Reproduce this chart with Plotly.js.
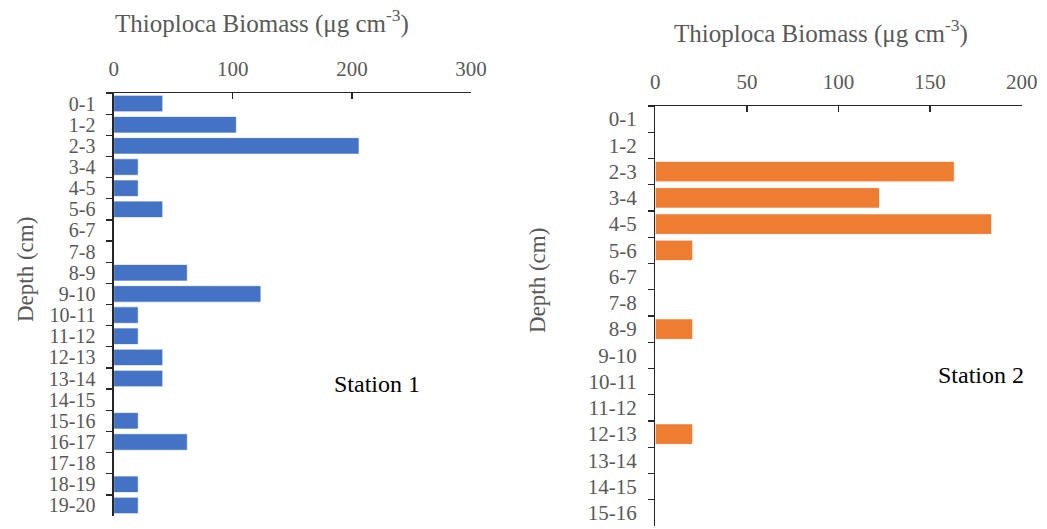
<!DOCTYPE html>
<html>
<head>
<meta charset="utf-8">
<script src="https://cdn.plot.ly/plotly-3.0.1.min.js"></script>
<style>
  html, body { margin: 0; padding: 0; background: #fff; }
  #chart { width: 1047px; height: 529px; }
</style>
</head>
<body>
<div id="chart"></div>
<script>
// Depth intervals (cm) for each core
const depthStation1 = ['0-1','1-2','2-3','3-4','4-5','5-6','6-7','7-8','8-9','9-10',
  '10-11','11-12','12-13','13-14','14-15','15-16','16-17','17-18','18-19','19-20'];
const depthStation2 = ['0-1','1-2','2-3','3-4','4-5','5-6','6-7','7-8','8-9','9-10',
  '10-11','11-12','12-13','13-14','14-15','15-16'];

// Thioploca biomass (µg cm-3) per depth interval
const biomassStation1 = [41.2, 103, 206, 20.6, 20.6, 41.2, 0, 0, 61.8, 123.6,
  20.6, 20.6, 41.2, 41.2, 0, 20.6, 61.8, 0, 20.6, 20.6];
const biomassStation2 = [0, 0, 163.2, 122.4, 183.6, 20.4, 0, 0, 20.4, 0,
  0, 0, 20.4, 0, 0, 0];

const W = 1047, H = 529;
const px = x => x / W;
const py = y => 1 - y / H;

const serif = "'Liberation Serif', 'Times New Roman', 'DejaVu Serif', serif";
const grey = '#595959';
const lineCol = '#262626';

const traces = [
  {
    type: 'bar', orientation: 'h',
    x: biomassStation1, y: depthStation1,
    xaxis: 'x', yaxis: 'y',
    marker: { color: '#4472C4', line: { color: 'rgba(255,255,255,0.7)', width: 1 } },
    hoverinfo: 'x+y'
  },
  {
    type: 'bar', orientation: 'h',
    x: biomassStation2, y: depthStation2,
    xaxis: 'x2', yaxis: 'y2',
    marker: { color: '#ED7D31', line: { color: 'rgba(255,255,255,0.7)', width: 1 } },
    hoverinfo: 'x+y'
  }
];

const xCommon = {
  side: 'top', showgrid: false, zeroline: false,
  showline: true, linecolor: lineCol, linewidth: 1.3,
  ticks: 'inside', ticklen: 6, tickcolor: lineCol, tickwidth: 1.3,
  tickfont: { family: serif, size: 21, color: grey },
  ticklabelstandoff: 7, fixedrange: true
};
const yCommon = {
  type: 'category', autorange: 'reversed', showgrid: false, zeroline: false,
  showline: true, linecolor: lineCol, linewidth: 1.3,
  ticks: 'outside', ticklen: 6, tickcolor: lineCol, tickwidth: 1.3,
  tickson: 'boundaries', tickmode: 'linear', tick0: 0, dtick: 1,
  ticklabelstandoff: 13, fixedrange: true
};

const layout = {
  width: W, height: H,
  margin: { l: 0, r: 0, t: 0, b: 0 },
  paper_bgcolor: '#fff', plot_bgcolor: '#fff',
  showlegend: false, bargap: 0.22,
  font: { family: serif },
  xaxis: Object.assign({}, xCommon, {
    domain: [px(113.7), px(471)], range: [0, 300], dtick: 100, anchor: 'y'
  }),
  yaxis: Object.assign({}, yCommon, {
    domain: [py(516), py(93)], anchor: 'x',
    tickfont: { family: serif, size: 20, color: grey }
  }),
  xaxis2: Object.assign({}, xCommon, {
    domain: [px(655.3), px(1021.7)], range: [0, 200], dtick: 50, anchor: 'y2'
  }),
  yaxis2: Object.assign({}, yCommon, {
    domain: [py(526), py(106)], anchor: 'x2',
    tickfont: { family: serif, size: 21, color: grey }
  }),
  annotations: [
    { text: 'Thioploca Biomass (μg cm<sup>-3</sup>)', x: px(262), y: py(22),
      font: { family: serif, size: 25, color: grey } },
    { text: 'Thioploca Biomass (μg cm<sup>-3</sup>)', x: px(821), y: py(31),
      font: { family: serif, size: 25, color: grey } },
    { text: 'Depth (cm)', x: px(25), y: py(270), textangle: -90,
      font: { family: serif, size: 23, color: grey } },
    { text: 'Depth (cm)', x: px(537), y: py(281), textangle: -90,
      font: { family: serif, size: 23, color: grey } },
    { text: 'Station 1', x: px(377), y: py(384),
      font: { family: serif, size: 24, color: '#000' } },
    { text: 'Station 2', x: px(981), y: py(375),
      font: { family: serif, size: 24, color: '#000' } }
  ].map(a => Object.assign({ xref: 'paper', yref: 'paper', showarrow: false,
    xanchor: 'center', yanchor: 'middle' }, a))
};

Plotly.newPlot('chart', traces, layout, { displayModeBar: false, staticPlot: true });
</script>
</body>
</html>
